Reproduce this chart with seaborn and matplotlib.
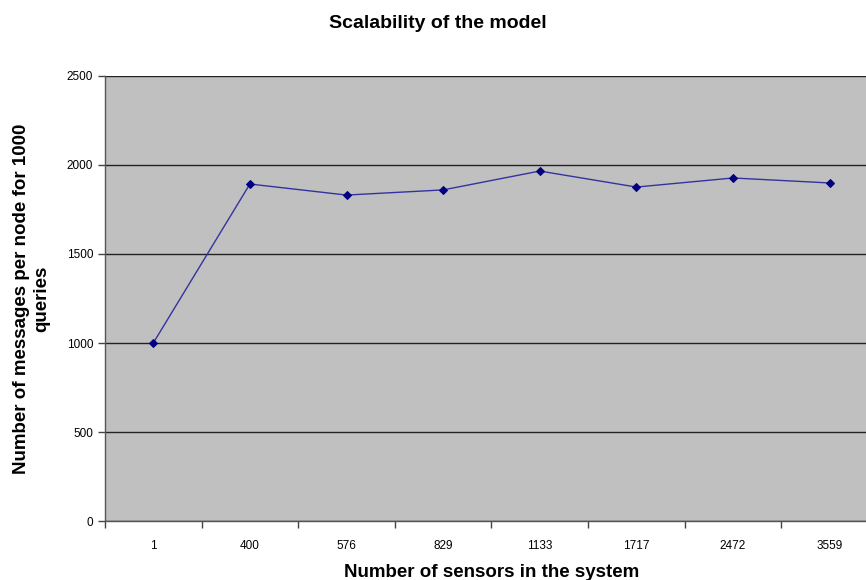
import matplotlib
matplotlib.use("Agg")
import matplotlib.pyplot as plt
import seaborn as sns
import pandas as pd

# data
sensors = ["1", "400", "576", "829", "1133", "1717", "2472", "3559"]
messages = [1000, 1893, 1831, 1860, 1966, 1876, 1927, 1899]

df = pd.DataFrame({"sensors": sensors, "messages": messages})

sns.set_style("white")
plt.rcParams["font.family"] = ["Liberation Sans", "DejaVu Sans"]
plt.rcParams["text.color"] = "black"
plt.rcParams["axes.labelcolor"] = "black"
plt.rcParams["xtick.color"] = "black"
plt.rcParams["ytick.color"] = "black"

fig = plt.figure(figsize=(8.66, 5.8), dpi=100)
# plot area runs a bit past the right edge, like the original screenshot
ax = fig.add_axes([0.1212, 0.1017, 0.8926, 0.7673])
ax.set_facecolor("#C0C0C0")

sns.pointplot(data=df, x="sensors", y="messages", order=sensors,
              color="#3333A0", markers="D", linestyles="-",
              markersize=4, linewidth=1, ax=ax)
for coll in ax.collections:
    coll.set_facecolor("#000080")
    coll.set_edgecolor("#000080")
for ln in ax.lines:
    ln.set_markerfacecolor("#000080")
    ln.set_markeredgecolor("#000080")

ax.set_xlim(-0.5, len(sensors) - 0.5)
ax.set_ylim(0, 2500)
ax.set_yticks(range(0, 2501, 500))
ax.yaxis.grid(True, color="#222222", linewidth=1)
ax.set_axisbelow(True)

# category separators as minor ticks
ax.set_xticks([i + 0.5 for i in range(-1, len(sensors))], minor=True)
ax.tick_params(axis="x", which="major", bottom=True, length=0, pad=14, labelsize=8.5)
ax.tick_params(axis="x", which="minor", bottom=True, length=5, width=1,
               direction="out", color="#444444")
ax.tick_params(axis="y", left=True, length=5, width=1, direction="out",
               color="#444444", labelsize=8.5)

for s in ["top", "right"]:
    ax.spines[s].set_visible(False)
for s in ["left", "bottom"]:
    ax.spines[s].set_color("#555555")
    ax.spines[s].set_linewidth(1)

ax.set_xlabel("Number of sensors in the system", fontsize=13.5, fontweight="bold", labelpad=8)
ax.set_ylabel("Number of messages per node for 1000\nqueries", fontsize=13.5,
              fontweight="bold", labelpad=12)
fig.text(0.505, 0.96, "Scalability of the model", ha="center", va="center",
         fontsize=14, fontweight="bold")

fig.savefig("out.png", dpi=100)
